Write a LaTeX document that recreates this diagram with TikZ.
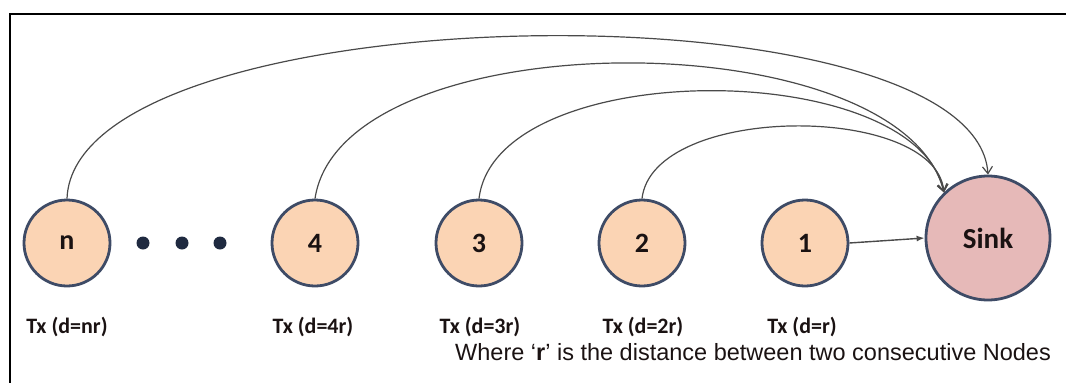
\documentclass[tikz,border=0pt]{standalone}
\usepackage{fontspec}
\setmainfont{Carlito}
\newfontfamily\arialfont{Liberation Sans}
\usetikzlibrary{arrows.meta}
\definecolor{nodefill}{HTML}{FBD4B4}
\definecolor{sinkfill}{HTML}{E6B9B8}
\definecolor{edgec}{HTML}{3E4B66}
\definecolor{arcc}{HTML}{4A4A4A}
\definecolor{txtc}{HTML}{1A1212}
\definecolor{dotc}{HTML}{1F2A40}
\begin{document}
\begin{tikzpicture}[x=1pt,y=-1pt,
  txnode/.style={circle, draw=edgec, line width=2.8pt, fill=nodefill, minimum size=86pt, inner sep=0pt, font=\fontsize{28}{32}\selectfont\bfseries, text=txtc},
  sinknode/.style={txnode, fill=sinkfill, minimum size=124pt, font=\fontsize{29}{33}\selectfont\bfseries},
  txlabel/.style={anchor=base, font=\fontsize{22}{26}\selectfont\bfseries, text=txtc, inner sep=0pt},
  dotnode/.style={circle, fill=dotc, minimum size=13pt, inner sep=0pt},
  link/.style={draw=arcc, line width=1.2pt, -{Straight Barb[length=7pt,width=10pt]}},
  straightlink/.style={draw=arcc, line width=1.4pt, -{Latex[length=8pt,width=6pt]}},
]
\useasboundingbox (0,0) rectangle (1066,383);
\draw[line width=2.6pt] (10,383) -- (10,14) -- (1066,14);

\node[txnode] (nn) at (67,243) {n};
\node[txnode] (n4) at (315,243) {4};
\node[txnode] (n3) at (479,243) {3};
\node[txnode] (n2) at (642,243) {2};
\node[txnode] (n1) at (805,243) {1};
\node[sinknode] (sink) at (988,238) {Sink};

\node[dotnode] (d1) at (143,243) {};
\node[dotnode] (d2) at (182,243) {};
\node[dotnode] (d3) at (220,243) {};

\node[txlabel] (lnn) at (67,333) {Tx (d=nr)};
\node[txlabel] (ln4) at (313,333) {Tx (d=4r)};
\node[txlabel] (ln3) at (480,333) {Tx (d=3r)};
\node[txlabel] (ln2) at (643,333) {Tx (d=2r)};
\node[txlabel] (ln1) at (802,333) {Tx (d=r)};

\node[anchor=base west, inner sep=0pt, font=\arialfont\fontsize{23.5}{28}\selectfont, text=txtc] (note) at (455,360) {Where ‘\textbf{r}’ is the distance between two consecutive Nodes};

\draw[link] (nn.north) .. controls (75,-8) and (975,-20) .. (sink.north);
\draw[link] (n4.north) .. controls (342,19) and (900,19) .. (sink.134);
\draw[link] (n3.north) .. controls (496,56) and (915,56) .. (sink.134);
\draw[link] (n2.north) .. controls (653,103) and (935,103) .. (sink.134);
\draw[straightlink] (n1.east) -- (sink.west);
\end{tikzpicture}
\end{document}
